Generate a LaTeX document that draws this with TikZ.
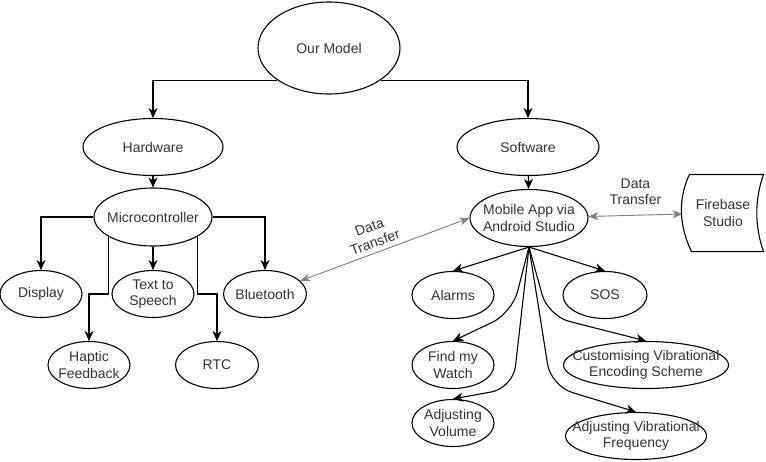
\documentclass[tikz,border=0pt]{standalone}
\usepackage{fontspec}
\setmainfont{Liberation Sans}
\usetikzlibrary{shapes.geometric,arrows.meta,positioning}

\tikzset{
	oval/.style={ellipse, draw, inner xsep=-40pt, inner ysep=-20pt, minimum width=82, minimum height=47, align=center},
	arr/.style={-{Stealth[length=10pt,width=9pt,inset=3pt]}},
	link/.style={draw=gray, line width=0.9pt, {Stealth[length=10pt,width=8pt,inset=3pt]}-{Stealth[length=10pt,width=8pt,inset=3pt]}},
	lbl/.style={align=center, inner sep=0pt}
}

\begin{document}
\begin{tikzpicture}[x=1pt, y=-1pt, line width=1.1pt, font=\fontsize{14}{16.5}\selectfont, text=black!80]
			\useasboundingbox (0,0) rectangle (766,461);
			% top levels
			\node[oval, minimum width=142, minimum height=92] (om) at (329,48) {Our Model};
			\node[oval, minimum width=140, minimum height=57] (hw) at (153,147) {Hardware};
			\node[oval, minimum width=142, minimum height=57] (sw) at (528,147) {Software};
			\draw[arr] (om.212) -| (hw);
			\draw[arr] (om.328) -| (sw);
			
			% hardware side
			\node[oval, minimum width=118, minimum height=58] (mc) at (153,217) {Microcontroller};
			\node[oval] (disp) at (41,294) {Display};
			\node[oval] (tts) at (153,294) {Text to\\Speech};
			\node[oval, minimum width=83] (bt) at (265,294) {Bluetooth};
			\node[oval] (hf) at (89,365) {Haptic\\Feedback};
			\node[oval, minimum width=83] (rtc) at (217,365) {RTC};
			\draw[arr] (hw) -- (mc);
			\draw[arr] (mc.west) -| (disp);
			\draw[arr] (mc) -- (tts);
			\draw[arr] (mc.east) -| (bt);
			\draw[arr] (mc.204) -- (mc.204 |- disp) -| (hf);
			\draw[arr] (mc.336) -- (mc.336 |- tts) -| (rtc);
			
			% software side
			\node[oval, minimum width=118, minimum height=57] (app) at (529,218) {Mobile App via\\Android Studio};
			\node[minimum width=80, minimum height=76, align=center] (fb) at (723,213) {Firebase\\Studio};
			\draw ([xshift=7]fb.north west) -- (fb.north east)
				.. controls +(-9,25) and +(-9,-25) .. (fb.south east)
				-- ([xshift=9]fb.south west)
				.. controls +(-12,-25) and +(-12,25) .. ([xshift=7]fb.north west);
			\draw[arr] (sw) -- (app);
			
			\node[oval] (al) at (453,295) {Alarms};
			\node[oval, minimum width=84] (sos) at (605,295) {SOS};
			\node[oval] (fw) at (453,365) {Find my\\Watch};
			\node[oval, minimum width=165] (ce) at (646,365) {Customising Vibrational\\Encoding Scheme};
			\node[oval] (av) at (453,423) {Adjusting\\Volume};
			\node[oval, minimum width=141] (fq) at (636,436) {Adjusting Vibrational\\Frequency};
			\foreach \n in {al,sos}
				\draw[arr] (app.south) -- (\n.north);
			\draw[arr, rounded corners=22] (app.south) -- (512,313) -- (fw.north);
			\draw[arr, rounded corners=22] (app.south) -- (513,388) -- (av.north);
			\draw[arr, rounded corners=22] (app.south) -- (548,316) -- (ce.north);
			\draw[arr, rounded corners=22] (app.south) -- (551,386) -- (fq.north);
			
			% data transfer
			\draw[link] (bt) -- node[lbl, pos=0.44, xshift=-2pt, yshift=17pt] {\rotatebox{20}{\begin{tabular}{@{}c@{}}Data\\Transfer\end{tabular}}} (app.west);
			\draw[link] (app) -- node[lbl, above=10pt] {Data\\Transfer} (fb);
			
		\end{tikzpicture}
\end{document}
